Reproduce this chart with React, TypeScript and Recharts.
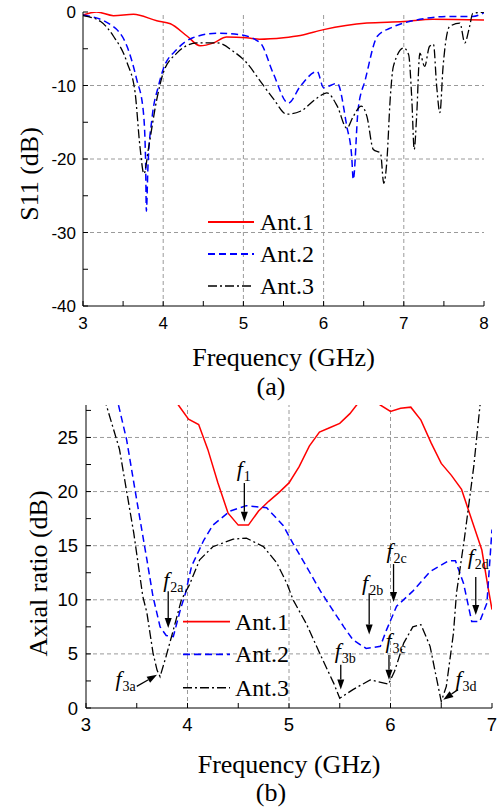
import React from 'react';
import { LineChart, Line, XAxis, YAxis, ReferenceLine, ReferenceDot, Legend } from 'recharts';

type Pt = [number, number];

// ---------- (a) S11 data: [frequency GHz, S11 dB] ----------
const s11Ant1: Pt[] = [
  [3.0, -0.4], [3.17, 0], [3.38, -0.5], [3.63, -0.3], [3.92, -1.2], [4.09, -1.6], [4.3, -3.3],
  [4.46, -4.6], [4.63, -4.2], [4.79, -3.4], [5.04, -3.5], [5.2, -3.7], [5.5, -3.5], [5.71, -3.2],
  [6.0, -2.4], [6.54, -1.5], [7.0, -1.3], [7.36, -1.0], [8.0, -1.1],
];
const s11Ant2: Pt[] = [
  [3.0, -0.4], [3.34, -1.7], [3.55, -4.7], [3.67, -9.2], [3.75, -13.3], [3.78, -20], [3.79, -27.1],
  [3.81, -21], [3.86, -14.5], [3.94, -10.1], [4.0, -7.8], [4.17, -5.1], [4.37, -3.5], [4.67, -2.9],
  [4.96, -3.1], [5.21, -4.2], [5.37, -8.3], [5.56, -12.4], [5.71, -10.1], [5.92, -8.1], [6.0, -10.3],
  [6.17, -9.7], [6.29, -15.6], [6.35, -19.6], [6.37, -22.8], [6.43, -13.3], [6.52, -9.2], [6.67, -3.3],
  [6.83, -2.2], [7.0, -1.5], [7.2, -1.0], [7.57, -0.6], [7.86, -0.6], [8.0, -0.1],
];
const s11Ant3: Pt[] = [
  [3.0, -0.5], [3.22, -1.3], [3.38, -3.3], [3.55, -6.9], [3.65, -11], [3.71, -18.3], [3.76, -22],
  [3.82, -18.3], [3.92, -11.9], [4.0, -8.3], [4.17, -5.6], [4.42, -4.2], [4.67, -4.2], [4.88, -5.4],
  [5.04, -6.9], [5.21, -9.4], [5.38, -11.9], [5.54, -13.9], [5.71, -13.5], [5.92, -11.7], [6.04, -11],
  [6.17, -12.8], [6.29, -15.8], [6.37, -14.2], [6.47, -12.8], [6.54, -14.2], [6.62, -18.7], [6.71, -19.2],
  [6.75, -23.3], [6.79, -20.1], [6.83, -11.9], [6.87, -7.4], [7.0, -4.9], [7.06, -5.8], [7.1, -11.9],
  [7.13, -18.7], [7.16, -14.2], [7.2, -5.6], [7.26, -7.4], [7.32, -4.7], [7.37, -4.4], [7.41, -10.1],
  [7.45, -13.7], [7.49, -7.4], [7.57, -2.0], [7.7, -1.5], [7.76, -4.2], [7.82, -2.0], [7.86, -0.2], [8.0, 0],
];

// ---------- (b) Axial ratio data: [frequency GHz, AR dB] ----------
const arAnt1: Pt[] = [
  [3.8, 30], [3.91, 28], [4.01, 26.7], [4.11, 26.2], [4.2, 23.9], [4.3, 20.8], [4.4, 18.0], [4.5, 16.9],
  [4.6, 16.9], [4.7, 18.2], [4.8, 19.1], [4.9, 19.9], [5.0, 20.8], [5.1, 22.3], [5.2, 24.2], [5.3, 25.5],
  [5.4, 25.9], [5.5, 26.3], [5.6, 27.2], [5.7, 28.4], [5.8, 28.6], [5.9, 28.0], [6.0, 27.4], [6.1, 27.7],
  [6.2, 27.8], [6.3, 26.6], [6.4, 24.5], [6.5, 22.6], [6.6, 21.5], [6.7, 20.2], [6.8, 17.4], [6.9, 14.6],
  [6.96, 11.2], [7.0, 9.1],
];
const arAnt2: Pt[] = [
  [3.25, 32], [3.32, 28], [3.4, 24.8], [3.5, 19.2], [3.6, 13.7], [3.66, 10.3], [3.73, 7.5], [3.79, 6.7],
  [3.86, 6.6], [3.93, 9.1], [3.98, 10.6], [4.04, 13.1], [4.16, 15.5], [4.25, 16.9], [4.42, 18.2],
  [4.58, 18.7], [4.78, 18.5], [4.94, 16.9], [5.04, 15.2], [5.17, 13.1], [5.31, 10.8], [5.42, 9.2],
  [5.54, 7.5], [5.63, 6.3], [5.76, 5.5], [5.9, 5.7], [5.96, 7.2], [6.06, 9.4], [6.22, 10.8], [6.39, 12.6],
  [6.57, 13.6], [6.64, 13.6], [6.72, 11.5], [6.8, 8.0], [6.88, 8.0], [6.95, 9.7], [7.0, 16.5],
];
const arAnt3: Pt[] = [
  [3.1, 35], [3.2, 28], [3.33, 23.9], [3.47, 16.2], [3.56, 10.3], [3.6, 8.8], [3.66, 5.1], [3.7, 3.5],
  [3.73, 2.9], [3.79, 4.8], [3.86, 7.2], [3.94, 10], [4.02, 11.4], [4.12, 13.7], [4.25, 14.9],
  [4.45, 15.6], [4.58, 15.7], [4.75, 14.9], [4.88, 13.4], [4.98, 11.5], [5.04, 10], [5.17, 7.8],
  [5.31, 4.9], [5.44, 2.3], [5.5, 0.9], [5.63, 1.7], [5.8, 2.6], [5.98, 2.2], [6.04, 3.4], [6.13, 6.0],
  [6.22, 7.5], [6.3, 7.7], [6.39, 5.7], [6.45, 2.9], [6.5, 0.6], [6.55, 2.0], [6.62, 6.9], [6.65, 10.6],
  [6.73, 15.8], [6.82, 22.3], [6.88, 27.8], [6.92, 31],
];

// ---------- axes ----------
const s11XTicks = [3, 3.5, 4, 4.5, 5, 5.5, 6, 6.5, 7, 7.5, 8];
const s11XLabels = [3, 4, 5, 6, 7, 8];
const s11YTicks = [-40, -35, -30, -25, -20, -15, -10, -5, 0];
const s11YLabels = [-40, -30, -20, -10, 0];
const s11XGrid = [4, 5, 6, 7];
const s11YGrid = [-30, -20, -10];

const arXTicks = [3, 3.5, 4, 4.5, 5, 5.5, 6, 6.5, 7];
const arXLabels = [3, 4, 5, 6, 7];
const arYTicks = [0, 2.5, 5, 7.5, 10, 12.5, 15, 17.5, 20, 22.5, 25, 27.5];
const arYLabels = [0, 5, 10, 15, 20, 25];
const arXGrid = [4, 5, 6];
const arYGrid = [5, 10, 15, 20, 25];

const seriesNames = ['Ant.1', 'Ant.2', 'Ant.3'];
const seriesColors = ['#ff0000', '#0000ff', '#000000'];
const seriesDash = ['', '7 4', '9 3 2 3'];
const seriesWidth = [1.5, 1.5, 1.3];

type Ann = { name: string; tail: Pt; tip: Pt; label: Pt };
const arAnnotations: Ann[] = [
  { name: '1', tail: [4.56, 20.8], tip: [4.56, 17.2], label: [4.485, 21.45] },
  { name: '2a', tail: [3.81, 10.8], tip: [3.81, 7.4], label: [3.76, 11.2] },
  { name: '2b', tail: [5.79, 10.6], tip: [5.79, 6.8], label: [5.72, 10.9] },
  { name: '2c', tail: [6.03, 13.3], tip: [6.03, 9.8], label: [5.96, 13.9] },
  { name: '2d', tail: [6.84, 12.1], tip: [6.84, 8.6], label: [6.76, 13.3] },
  { name: '3a', tail: [3.5, 2.0], tip: [3.7, 3.07], label: [3.29, 2.0] },
  { name: '3b', tail: [5.51, 4.0], tip: [5.51, 1.7], label: [5.45, 4.6] },
  { name: '3c', tail: [5.985, 4.9], tip: [5.985, 2.6], label: [5.95, 5.57] },
  { name: '3d', tail: [6.665, 1.7], tip: [6.52, 0.77], label: [6.64, 2.0] },
];

const toRows = (arr: Pt[]) => arr.map(([f, v]) => ({ f, v }));

const SERIF = "'Liberation Serif', 'Times New Roman', 'DejaVu Serif', serif";
const SANS = "'Liberation Sans', Arial, sans-serif";

const labelFmt = (labels: number[]) => (v: number) => (labels.includes(v) ? String(v) : '');
const blank = () => '';

const xTitle = (value: string, offset: number) => (props: any) => {
  const { x, y, width, height } = props.viewBox;
  return (
    <text
      x={x + width / 2}
      y={y + height - offset}
      textAnchor="middle"
      fill="#000"
      style={{ fontFamily: SERIF, fontSize: 26 }}
    >
      {value}
    </text>
  );
};

const yTitle = (value: string, cx: number, shift: number) => (props: any) => {
  const { y, height } = props.viewBox;
  const cy = y + height / 2 + shift;
  return (
    <text
      x={cx}
      y={cy}
      transform={`rotate(-90, ${cx}, ${cy})`}
      textAnchor="middle"
      dominantBaseline="central"
      fill="#000"
      style={{ fontFamily: SERIF, fontSize: 26 }}
    >
      {value}
    </text>
  );
};

const LegendBox = ({ lineLen, gap, rows }: { lineLen: number; gap: number; rows: number[] }) => (
  <svg width={lineLen + gap + 70} height={rows[rows.length - 1] + 20} style={{ display: 'block', overflow: 'visible' }}>
    {seriesNames.map((n, i) => (
      <g key={n}>
        <line
          x1={0}
          x2={lineLen}
          y1={rows[i]}
          y2={rows[i]}
          stroke={seriesColors[i]}
          strokeWidth={seriesWidth[i] + 0.3}
          strokeDasharray={seriesDash[i] || undefined}
        />
        <text x={lineLen + gap} y={rows[i] + 8} fill="#000" style={{ fontFamily: SERIF, fontSize: 24 }}>
          {n}
        </text>
      </g>
    ))}
  </svg>
);

const Arrow = (props: any) => {
  const { x1, y1, x2, y2 } = props;
  const ang = Math.atan2(y2 - y1, x2 - x1);
  const L = 10;
  const W = 3.5;
  const bx = x2 - L * Math.cos(ang);
  const by = y2 - L * Math.sin(ang);
  const px = -Math.sin(ang) * W;
  const py = Math.cos(ang) * W;
  return (
    <g>
      <line x1={x1} y1={y1} x2={bx} y2={by} stroke="#000" strokeWidth={1.3} />
      <polygon points={`${x2},${y2} ${bx + px},${by + py} ${bx - px},${by - py}`} fill="#000" />
    </g>
  );
};

const AnnLabel = ({ cx, cy, name }: { cx: number; cy: number; name: string }) => (
  <text x={cx} y={cy} fill="#000" style={{ fontFamily: SERIF }}>
    <tspan style={{ fontSize: 22, fontStyle: 'italic' }}>f</tspan>
    <tspan style={{ fontSize: 14 }} dx={1} dy={5}>{name}</tspan>
  </text>
);

const gridStyle = { stroke: '#9a9a9a', strokeDasharray: '4 3', strokeWidth: 1 };

const captionStyle: React.CSSProperties = {
  position: 'absolute', left: 241, width: 60, height: 20, textAlign: 'center',
  fontFamily: SERIF, fontSize: 26, lineHeight: '20px', color: '#000',
};

export default function App() {
  const s11Series = [s11Ant1, s11Ant2, s11Ant3];
  const arSeries = [arAnt1, arAnt2, arAnt3];
  return (
    <div style={{ position: 'absolute', left: 0, top: 0, width: 498, height: 810, background: '#fff' }}>
      {/* (a) */}
      <div style={{ position: 'absolute', left: 0, top: 0 }}>
        <LineChart width={498} height={380} margin={{ top: 12, right: 14, bottom: 0, left: 0 }}>
          {s11XGrid.map((v) => (
            <ReferenceLine key={'gx' + v} x={v} {...gridStyle} zIndex={-50} />
          ))}
          {s11YGrid.map((v) => (
            <ReferenceLine key={'gy' + v} y={v} {...gridStyle} zIndex={-50} />
          ))}
          <XAxis
            dataKey="f"
            type="number"
            domain={[3, 8]}
            ticks={s11XTicks}
            interval={0}
            tickFormatter={labelFmt(s11XLabels)}
            allowDataOverflow
            height={74}
            tickSize={-5}
            tickMargin={16}
            stroke="#000"
            tick={{ fill: '#000', fontSize: 17, fontFamily: SANS }}
            label={xTitle('Frequency (GHz)', 14)}
          />
          <XAxis
            xAxisId="top"
            orientation="top"
            type="number"
            domain={[3, 8]}
            ticks={s11XTicks}
            interval={0}
            tickFormatter={blank}
            height={0}
            tickSize={-5}
            stroke="#000"
          />
          <YAxis
            type="number"
            domain={[-40, 0]}
            ticks={s11YTicks}
            interval={0}
            tickFormatter={labelFmt(s11YLabels)}
            allowDataOverflow
            width={83}
            tickSize={-5}
            tickMargin={12}
            stroke="#000"
            tick={{ fill: '#000', fontSize: 17, fontFamily: SANS }}
            label={yTitle('S11 (dB)', 29, 15)}
          />
          <YAxis
            yAxisId="right"
            orientation="right"
            type="number"
            domain={[-40, 0]}
            ticks={s11YTicks}
            interval={0}
            tickFormatter={blank}
            width={0}
            tickSize={-5}
            stroke="#000"
          />
          {s11Series.map((d, i) => (
            <Line
              key={seriesNames[i]}
              data={toRows(d)}
              dataKey="v"
              name={seriesNames[i]}
              type="monotone"
              stroke={seriesColors[i]}
              strokeWidth={seriesWidth[i]}
              strokeDasharray={seriesDash[i] || undefined}
              dot={false}
              activeDot={false}
              isAnimationActive={false}
            />
          ))}
          <Legend
            layout="vertical"
            align="center"
            verticalAlign="middle"
            wrapperStyle={{ left: 208, top: 206, width: 'auto', height: 'auto' }}
            content={() => <LegendBox lineLen={46} gap={6} rows={[16, 48, 80]} />}
          />
        </LineChart>
      </div>
      <div style={{ ...captionStyle, top: 377 }}>(a)</div>

      {/* (b) */}
      <div style={{ position: 'absolute', left: 0, top: 395 }}>
        <LineChart width={498} height={385} margin={{ top: 10, right: 6, bottom: 0, left: 0 }}>
          {arXGrid.map((v) => (
            <ReferenceLine key={'gx' + v} x={v} {...gridStyle} zIndex={-50} />
          ))}
          {arYGrid.map((v) => (
            <ReferenceLine key={'gy' + v} y={v} {...gridStyle} zIndex={-50} />
          ))}
          <XAxis
            dataKey="f"
            type="number"
            domain={[3, 7]}
            ticks={arXTicks}
            interval={0}
            tickFormatter={labelFmt(arXLabels)}
            allowDataOverflow
            height={72}
            tickSize={-5}
            tickMargin={15}
            stroke="#000"
            tick={{ fill: '#000', fontSize: 18.5, fontFamily: SANS }}
            label={xTitle('Frequency (GHz)', 7)}
          />
          <XAxis
            xAxisId="top"
            orientation="top"
            type="number"
            domain={[3, 7]}
            ticks={arXTicks}
            interval={0}
            tickFormatter={blank}
            height={0}
            tickSize={-5}
            stroke="#000"
          />
          <YAxis
            type="number"
            domain={[0, 28]}
            ticks={arYTicks}
            interval={0}
            tickFormatter={labelFmt(arYLabels)}
            allowDataOverflow
            width={86}
            tickSize={-5}
            tickMargin={13}
            stroke="#000"
            tick={{ fill: '#000', fontSize: 18.5, fontFamily: SANS }}
            label={yTitle('Axial ratio (dB)', 38, 17)}
          />
          <YAxis
            yAxisId="right"
            orientation="right"
            type="number"
            domain={[0, 28]}
            ticks={arYTicks}
            interval={0}
            tickFormatter={blank}
            width={0}
            tickSize={-5}
            stroke="#000"
          />
          {arSeries.map((d, i) => (
            <Line
              key={seriesNames[i]}
              data={toRows(d)}
              dataKey="v"
              name={seriesNames[i]}
              type="linear"
              stroke={seriesColors[i]}
              strokeWidth={seriesWidth[i]}
              strokeDasharray={seriesDash[i] || undefined}
              dot={false}
              activeDot={false}
              isAnimationActive={false}
            />
          ))}
          {arAnnotations.map((a) => (
            <ReferenceLine
              key={'ar' + a.name}
              segment={[{ x: a.tail[0], y: a.tail[1] }, { x: a.tip[0], y: a.tip[1] }]}
              shape={(p: any) => <Arrow {...p} />}
              ifOverflow="visible"
            />
          ))}
          {arAnnotations.map((a) => (
            <ReferenceDot
              key={'lb' + a.name}
              x={a.label[0]}
              y={a.label[1]}
              ifOverflow="visible"
              shape={(p: any) => <AnnLabel cx={p.cx} cy={p.cy} name={a.name} />}
            />
          ))}
          <Legend
            layout="vertical"
            align="center"
            verticalAlign="middle"
            wrapperStyle={{ left: 183, top: 210, width: 'auto', height: 'auto' }}
            content={() => <LegendBox lineLen={47} gap={5} rows={[16.7, 49.3, 82.7]} />}
          />
        </LineChart>
      </div>
      <div style={{ ...captionStyle, top: 783 }}>(b)</div>
    </div>
  );
}
